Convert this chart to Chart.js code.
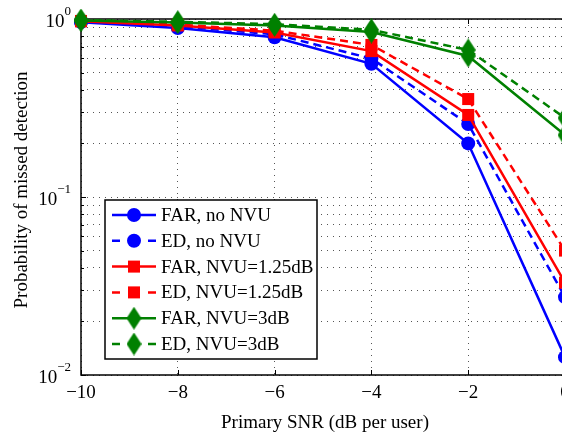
<!DOCTYPE html>
<html>
<head>
<meta charset="utf-8">
<script src="https://cdn.jsdelivr.net/npm/chart.js@4.4.1/dist/chart.umd.min.js"></script>
<style>
html, body { margin: 0; padding: 0; background: #fff; overflow: hidden; }
canvas { display: block; }
</style>
</head>
<body>
<canvas id="chart" width="600" height="438"></canvas>
<script>
// data
const snr = [-10, -8, -6, -4, -2, 0];
const farNoNvu  = [0.96, 0.89, 0.79, 0.56, 0.20, 0.0126];
const edNoNvu   = [0.97, 0.91, 0.82, 0.60, 0.257, 0.0274];
const farNvu125 = [0.97, 0.92, 0.84, 0.66, 0.289, 0.033];
const edNvu125  = [0.975, 0.93, 0.86, 0.715, 0.355, 0.050];
const farNvu3   = [0.98, 0.955, 0.92, 0.845, 0.62, 0.223];
const edNvu3    = [0.985, 0.965, 0.935, 0.87, 0.67, 0.278];

const xTicks = [-10, -8, -6, -4, -2, 0];
const yDecades = [-2, -1, 0];
const yMinor = [1, 2, 3, 4, 5, 6, 7, 8, 9];

const SERIF = '"Liberation Serif", "Times New Roman", serif';
const BLUE = '#0000ff', RED = '#ff0000', GREEN = '#008000';

function diamond(color) {
  const c = document.createElement('canvas');
  c.width = 15; c.height = 23;
  const g = c.getContext('2d');
  g.fillStyle = color;
  g.beginPath();
  g.moveTo(7.5, 0); g.lineTo(15, 11.5); g.lineTo(7.5, 23); g.lineTo(0, 11.5);
  g.closePath();
  g.fill();
  return c;
}

function series(label, values, color, dashed, marker, order) {
  let style = 'circle', radius = 7;
  if (marker === 'square') { style = 'rect'; radius = 8.5; }
  if (marker === 'diamond') { style = diamond(color); radius = 8; }
  return {
    label: label,
    data: snr.map((x, i) => ({ x: x, y: values[i] })),
    borderColor: color,
    backgroundColor: color,
    borderWidth: 2.5,
    borderDash: dashed ? [8, 5] : [],
    pointStyle: style,
    pointRadius: radius,
    pointBorderWidth: 0,
    pointBackgroundColor: color,
    tension: 0,
    clip: false,
    order: order,
    marker: marker
  };
}

const datasets = [
  series('FAR, no NVU', farNoNvu, BLUE, false, 'circle', 6),
  series('ED, no NVU', edNoNvu, BLUE, true, 'circle', 5),
  series('FAR, NVU=1.25dB', farNvu125, RED, false, 'square', 4),
  series('ED, NVU=1.25dB', edNvu125, RED, true, 'square', 3),
  series('FAR, NVU=3dB', farNvu3, GREEN, false, 'diamond', 2),
  series('ED, NVU=3dB', edNvu3, GREEN, true, 'diamond', 1)
];

// axis box, inward ticks and tick labels
const axesPlugin = {
  id: 'axes',
  beforeDatasetsDraw(chart) {
    const { ctx, chartArea: a, scales } = chart;
    ctx.save();
    ctx.strokeStyle = '#000';
    ctx.lineWidth = 1;
    ctx.beginPath();
    xTicks.forEach(v => {
      const px = Math.round(scales.x.getPixelForValue(v)) + 0.5;
      ctx.moveTo(px, a.bottom); ctx.lineTo(px, a.bottom - 5);
      ctx.moveTo(px, a.top); ctx.lineTo(px, a.top + 5);
    });
    yDecades.forEach(d => {
      yMinor.forEach(m => {
        const v = m * Math.pow(10, d);
        if (v > 1.0001) return;
        const py = Math.round(scales.y.getPixelForValue(v)) + 0.5;
        const len = m === 1 ? 5 : 3;
        ctx.moveTo(a.left, py); ctx.lineTo(a.left + len, py);
      });
    });
    ctx.stroke();
    ctx.lineWidth = 1.5;
    ctx.strokeRect(a.left, a.top, a.right - a.left, a.bottom - a.top);
    ctx.restore();
  },
  afterDraw(chart) {
    const { ctx, chartArea: a, scales } = chart;
    ctx.save();
    ctx.fillStyle = '#000';
    // x tick labels
    ctx.font = '19px ' + SERIF;
    ctx.textAlign = 'center';
    ctx.textBaseline = 'middle';
    xTicks.forEach(v => {
      const txt = v < 0 ? '\u2212' + Math.abs(v) : String(v);
      ctx.fillText(txt, scales.x.getPixelForValue(v), a.bottom + 18);
    });
    // y tick labels 10^d
    yDecades.forEach(d => {
      const py = scales.y.getPixelForValue(Math.pow(10, d));
      const exp = d < 0 ? '\u2212' + Math.abs(d) : String(d);
      ctx.font = '13px ' + SERIF;
      const we = ctx.measureText(exp).width;
      ctx.font = '19px ' + SERIF;
      const wb = ctx.measureText('10').width;
      const right = 71;
      ctx.textAlign = 'left';
      ctx.textBaseline = 'alphabetic';
      ctx.fillText('10', right - we - wb, py + 8);
      ctx.font = '13px ' + SERIF;
      ctx.fillText(exp, right - we, py - 4);
    });
    // axis titles
    ctx.font = '19px ' + SERIF;
    ctx.textAlign = 'center';
    ctx.textBaseline = 'middle';
    ctx.fillText('Primary SNR (dB per user)', 325, 423);
    ctx.translate(22, 190);
    ctx.rotate(-Math.PI / 2);
    ctx.fillText('Probability of missed detection', 0, 0);
    ctx.restore();
  }
};

// legend box inside the plot
const legendPlugin = {
  id: 'boxLegend',
  afterDraw(chart) {
    const ctx = chart.ctx;
    const box = { x: 105, y: 200, w: 212, h: 159 };
    ctx.save();
    ctx.fillStyle = '#fff';
    ctx.fillRect(box.x, box.y, box.w, box.h);
    ctx.strokeStyle = '#000';
    ctx.lineWidth = 1.5;
    ctx.strokeRect(box.x, box.y, box.w, box.h);
    chart.data.datasets.forEach((ds, i) => {
      const cy = box.y + 15 + i * 25.8;
      ctx.strokeStyle = ds.borderColor;
      ctx.fillStyle = ds.borderColor;
      ctx.lineWidth = 2.5;
      ctx.setLineDash(ds.borderDash);
      ctx.beginPath();
      if (ds.borderDash.length) {
        ctx.setLineDash([]);
        ctx.moveTo(112, cy); ctx.lineTo(120, cy);
        ctx.moveTo(148, cy); ctx.lineTo(156, cy);
      } else {
        ctx.moveTo(112, cy); ctx.lineTo(156, cy);
      }
      ctx.stroke();
      ctx.setLineDash([]);
      const mx = 134;
      if (ds.marker === 'circle') {
        ctx.beginPath(); ctx.arc(mx, cy, 7, 0, Math.PI * 2); ctx.fill();
      } else if (ds.marker === 'square') {
        ctx.fillRect(mx - 6, cy - 6, 12, 12);
      } else {
        ctx.drawImage(ds.pointStyle, mx - 7.5, cy - 11.5);
      }
      ctx.fillStyle = '#000';
      ctx.font = '19px ' + SERIF;
      ctx.textAlign = 'left';
      ctx.textBaseline = 'middle';
      ctx.fillText(ds.label, 161, cy + 1);
    });
    ctx.restore();
  }
};

new Chart(document.getElementById('chart'), {
  type: 'line',
  data: { datasets: datasets },
  options: {
    responsive: false,
    animation: false,
    events: [],
    layout: { padding: { left: 0, top: 19, right: 35, bottom: 0 } },
    plugins: { legend: { display: false }, tooltip: { enabled: false } },
    scales: {
      x: {
        type: 'linear',
        min: -10,
        max: 0,
        afterBuildTicks: s => { s.ticks = xTicks.map(v => ({ value: v })); },
        afterFit: s => { s.height = 63; },
        ticks: { display: false },
        grid: { color: '#555', lineWidth: 1, drawTicks: false },
        border: { display: false, dash: [1, 5] }
      },
      y: {
        type: 'logarithmic',
        min: 0.01,
        max: 1,
        afterBuildTicks: s => {
          const t = [];
          yDecades.forEach(d => yMinor.forEach(m => {
            const v = m * Math.pow(10, d);
            if (v <= 1.0001) t.push({ value: v });
          }));
          s.ticks = t;
        },
        afterFit: s => { s.width = 81; },
        ticks: { display: false },
        grid: { color: '#555', lineWidth: 1, drawTicks: false },
        border: { display: false, dash: [1, 5] }
      }
    }
  },
  plugins: [axesPlugin, legendPlugin]
});
</script>
</body>
</html>
